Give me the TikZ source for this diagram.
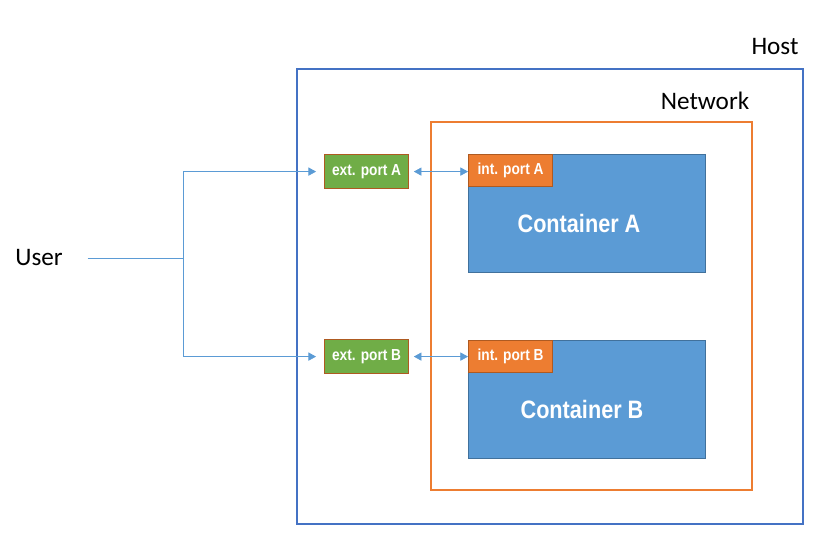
\documentclass[tikz,border=0pt]{standalone}
\usepackage{fontspec}
\setmainfont{Carlito}
\newfontfamily\narrowfont[FakeStretch=0.86]{Liberation Sans}
\usetikzlibrary{arrows.meta}
\definecolor{hostblue}{RGB}{68,114,196}
\definecolor{netorange}{RGB}{237,125,49}
\definecolor{boxblue}{RGB}{91,155,213}
\definecolor{boxborder}{RGB}{65,113,156}
\definecolor{portgreen}{RGB}{112,173,71}
\definecolor{portborder}{RGB}{174,90,33}
\definecolor{linkblue}{RGB}{91,155,213}
\begin{document}
\begin{tikzpicture}[x=0.03cm, y=-0.03cm, >={Triangle[length=6.5pt, width=7pt]},
    plain/.style={font=\fontsize{21.5}{21.5}\selectfont, inner sep=0pt},
    frame/.style={anchor=north west, inner sep=0pt},
    container/.style={draw=boxborder, fill=boxblue, line width=1pt, anchor=north west,
        minimum width=7.11cm, minimum height=3.54cm, inner sep=0pt},
    boxtext/.style={text=white, font=\narrowfont\bfseries\fontsize{21.5}{21.5}\selectfont, inner sep=0pt},
    port/.style={draw=portborder, line width=1pt, anchor=north west, text=white,
        minimum width=2.52cm, inner sep=0pt, font=\narrowfont\bfseries\fontsize{13.6}{13.6}\selectfont},
    link/.style={draw=linkblue, line width=0.6pt}]
    \useasboundingbox (0,0) rectangle (829,559);

    % host and network frames
    \node[frame, draw=hostblue, line width=1.5pt, minimum width=15.18cm, minimum height=13.65cm] (host) at (296,68) {};
    \node[plain] (hostlbl) at (775,47) {Host};
    \node[frame, draw=netorange, line width=1.3pt, minimum width=9.63cm, minimum height=11.04cm] (net) at (430,121) {};
    \node[plain] (netlbl) at (705,101) {Network};

    % containers with their internal ports
    \node[container] (contA) at (468,154) {};
    \node[boxtext] (lblA) at (579,223) {Container A};
    \node[port, fill=netorange, minimum height=0.96cm] (intA) at (468,154) {int. port A};

    \node[container] (contB) at (468,340) {};
    \node[boxtext] (lblB) at (582,409) {Container B};
    \node[port, fill=netorange, minimum height=0.96cm] (intB) at (468,340) {int. port B};

    % external ports on the host
    \node[port, fill=portgreen, minimum height=1.02cm] (extA) at (324,154) {ext. port A};
    \node[port, fill=portgreen, minimum height=1.02cm] (extB) at (324,339) {ext. port B};

    % user and links
    \node[plain] (user) at (39,258) {User};
    \coordinate (fork) at (183,258);
    \draw[link, shorten <=21pt] (user.east) -- (fork);
    \draw[link, ->, shorten >=6.8pt] (fork) |- (extA.west);
    \draw[link, ->, shorten >=6.8pt] (fork) |- (extB.west);
    \draw[link, <->, shorten <=4pt] (extA.east) -- (intA.west |- extA.east);
    \draw[link, <->, shorten <=4pt] (extB.east) -- (intB.west |- extB.east);
\end{tikzpicture}
\end{document}
